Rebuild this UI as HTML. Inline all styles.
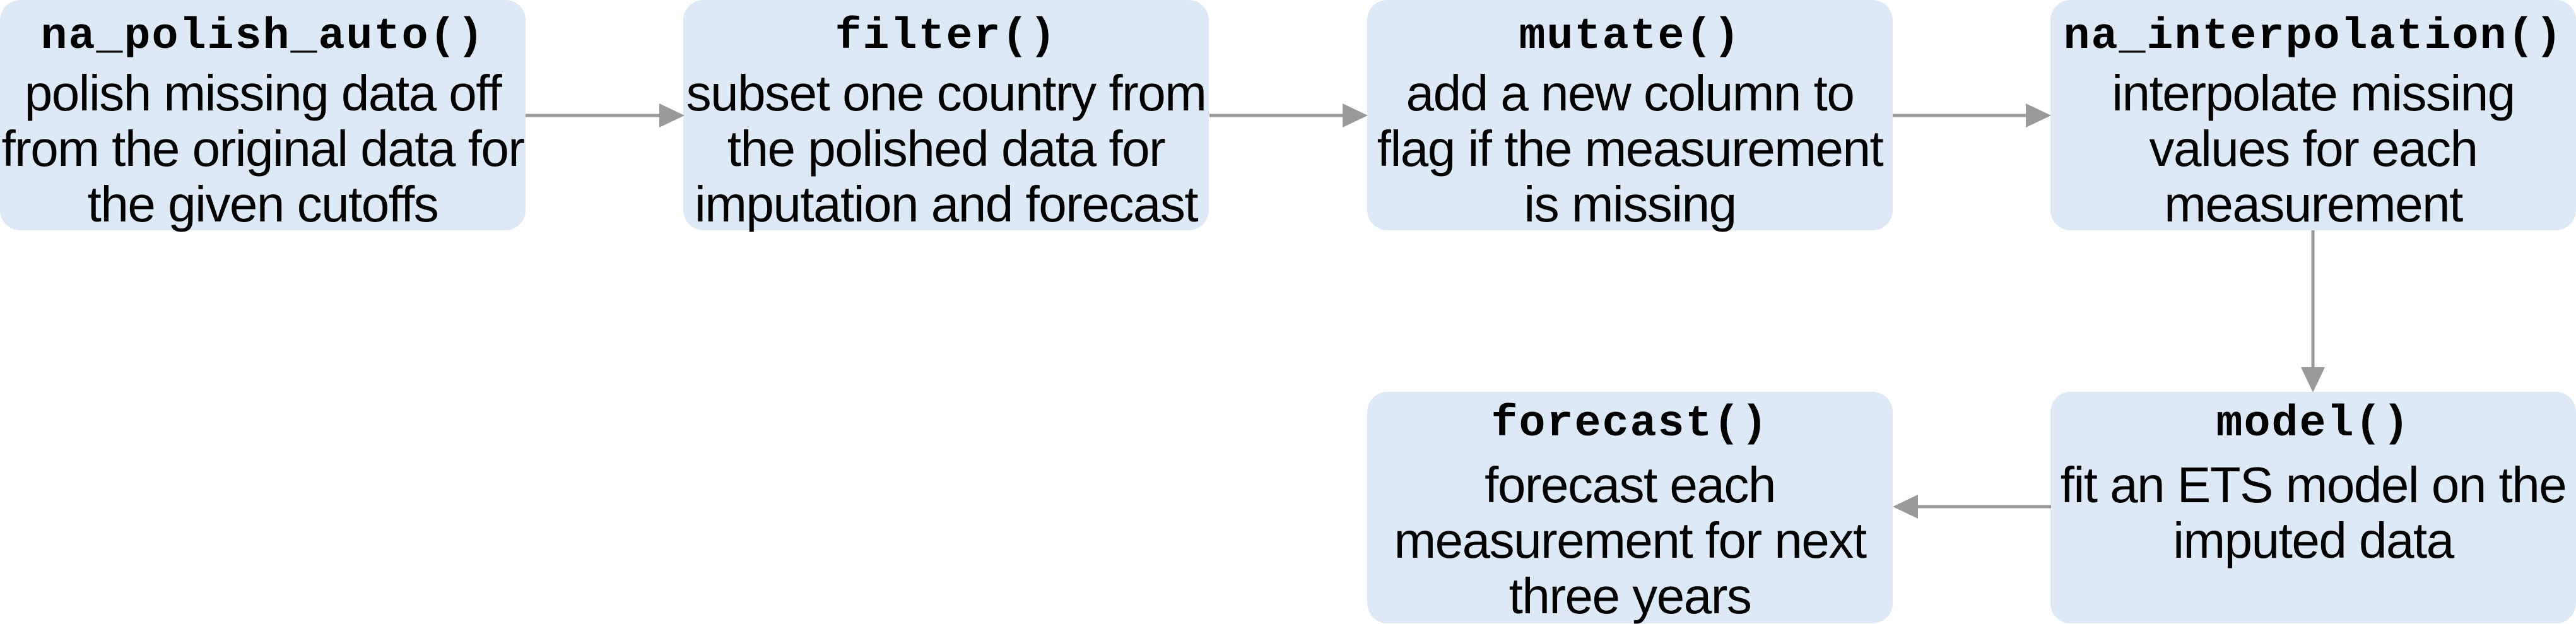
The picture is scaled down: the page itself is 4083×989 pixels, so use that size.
<!DOCTYPE html>
<html><head><meta charset="utf-8"><style>
body{margin:0;width:4083px;height:988px;background:#fff;position:relative;overflow:hidden}
.b{position:absolute;width:833px;height:365px;background:#dde9f6;border-radius:32px;text-align:center;box-sizing:border-box;padding-top:15px}
.r2{padding-top:8px;height:367px}
.t{font-family:"Liberation Mono",monospace;font-weight:bold;font-size:70px;letter-spacing:2px;line-height:88px;height:89px;white-space:nowrap}
.r2 .t{height:96px}
.d{font-family:"Liberation Sans",sans-serif;font-size:80px;letter-spacing:-1.5px;line-height:88px;white-space:nowrap}
svg{position:absolute;left:0;top:0}
</style></head><body>
<div class="b" style="left:0;top:0"><div class="t">na_polish_auto()</div><div class="d">polish missing data off<br>from the original data for<br>the given cutoffs</div></div>
<div class="b" style="left:1083px;top:0"><div class="t">filter()</div><div class="d">subset one country from<br>the polished data for<br>imputation and forecast</div></div>
<div class="b" style="left:2167px;top:0"><div class="t">mutate()</div><div class="d">add a new column to<br>flag if the measurement<br>is missing</div></div>
<div class="b" style="left:3250px;top:0"><div class="t">na_interpolation()</div><div class="d">interpolate missing<br>values for each<br>measurement</div></div>
<div class="b r2" style="left:2167px;top:621px"><div class="t">forecast()</div><div class="d">forecast each<br>measurement for next<br>three years</div></div>
<div class="b r2" style="left:3250px;top:621px"><div class="t">model()</div><div class="d">fit an ETS model on the<br>imputed data</div></div>
<svg width="4083" height="988">
<g stroke="#999" stroke-width="5" fill="#999">
<line x1="833" y1="183" x2="1045" y2="183"/><polygon stroke="none" points="1045,164 1085,183 1045,202"/>
<line x1="1917" y1="183" x2="2128" y2="183"/><polygon stroke="none" points="2128,164 2168,183 2128,202"/>
<line x1="3000" y1="183" x2="3211" y2="183"/><polygon stroke="none" points="3211,164 3251,183 3211,202"/>
<line x1="3666" y1="365" x2="3666" y2="582"/><polygon stroke="none" points="3647,582 3685,582 3666,622"/>
<line x1="3251" y1="803" x2="3040" y2="803"/><polygon stroke="none" points="3040,784 3000,803 3040,822"/>
</g></svg>
</body></html>
